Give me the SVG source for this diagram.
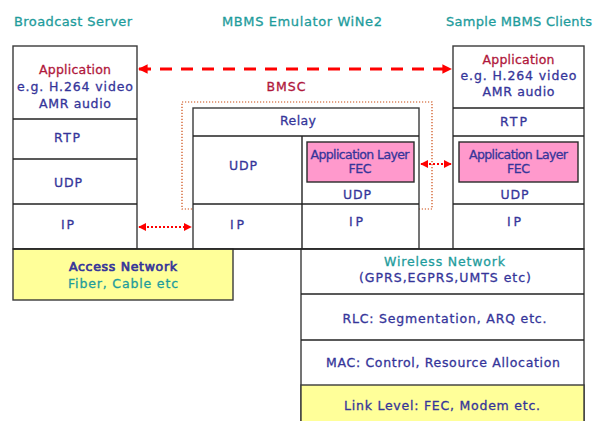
<svg xmlns="http://www.w3.org/2000/svg" width="593" height="421" viewBox="0 0 593 421">
  <defs>
    <marker id="headRed" viewBox="0 0 10 10" refX="9" refY="5" markerWidth="3.2" markerHeight="3.2" orient="auto-start-reverse" markerUnits="strokeWidth">
      <path d="M0,0 L10,5 L0,10 z" fill="#ff0000"/>
    </marker>
    <marker id="headDot" viewBox="0 0 10 10" refX="9" refY="5" markerWidth="4" markerHeight="4" orient="auto-start-reverse" markerUnits="strokeWidth">
      <path d="M0,0 L10,5 L0,10 z" fill="#ff0000"/>
    </marker>
    <style>
      text { font-family: "DejaVu Sans", Verdana, sans-serif; font-size: 12.5px; text-anchor: middle; stroke-width: 0.3px; }
      .hdr { fill: #1e9c9c; stroke: #1e9c9c; font-size: 13px; }
      .blue { fill: #35359a; stroke: #35359a; }
      .red { fill: #b0173b; stroke: #b0173b; }
      .teal { fill: #1e9c9c; stroke: #1e9c9c; }
      .b { stroke-width: 0.7px; }
      .box { fill: #ffffff; stroke: #3a3a3a; stroke-width: 1.4; }
      .ln { stroke: #222; stroke-width: 1.4; fill: none; }
      .yel { fill: #ffff99; stroke: #3a3a3a; stroke-width: 1.4; }
      .pink { fill: #ff99cc; stroke: #2a2a2a; stroke-width: 1.4; }
    </style>
  </defs>

  <!-- column headings -->
  <text class="hdr" x="73" y="26" textLength="118" lengthAdjust="spacing">Broadcast Server</text>
  <text class="hdr" x="302" y="26" textLength="160" lengthAdjust="spacing">MBMS Emulator WiNe2</text>
  <text class="hdr" x="519" y="26" textLength="146" lengthAdjust="spacing">Sample MBMS Clients</text>

  <!-- broadcast server protocol stack -->
  <g id="server">
    <rect class="box" x="13" y="46" width="124" height="203"/>
    <line class="ln" x1="13" y1="119" x2="137" y2="119"/>
    <line class="ln" x1="13" y1="159" x2="137" y2="159"/>
    <line class="ln" x1="13" y1="204" x2="137" y2="204"/>
    <text class="red" x="75" y="74" textLength="72" lengthAdjust="spacing">Application</text>
    <text class="blue" x="75" y="91" textLength="116" lengthAdjust="spacing">e.g. H.264 video</text>
    <text class="blue" x="75" y="107.5" textLength="72" lengthAdjust="spacing">AMR audio</text>
    <text class="blue" x="67" y="141.5" textLength="26" lengthAdjust="spacing">RTP</text>
    <text class="blue" x="68" y="186.5" textLength="28" lengthAdjust="spacing">UDP</text>
    <text class="blue" x="67.5" y="229" textLength="13" lengthAdjust="spacing">IP</text>
  </g>

  <!-- BMSC boundary -->
  <rect x="182" y="102" width="250" height="107" fill="none" stroke="#cc4a10" stroke-width="1.2" stroke-dasharray="1.2 1.8"/>
  <text class="red" x="286" y="91" textLength="39" lengthAdjust="spacing">BMSC</text>

  <!-- emulator relay stack -->
  <g id="relay">
    <rect class="box" x="193" y="108" width="226" height="141"/>
    <line class="ln" x1="193" y1="136" x2="419" y2="136"/>
    <line class="ln" x1="193" y1="204" x2="419" y2="204"/>
    <line class="ln" x1="302" y1="136" x2="302" y2="249"/>
    <text class="blue" x="298" y="125" textLength="36" lengthAdjust="spacing">Relay</text>
    <text class="blue" x="243" y="170" textLength="28" lengthAdjust="spacing">UDP</text>
    <text class="blue" x="237" y="229" textLength="14" lengthAdjust="spacing">IP</text>
    <rect class="pink" x="307" y="142" width="107" height="40"/>
    <text class="blue" x="360" y="159" font-size="11" textLength="99" lengthAdjust="spacing">Application Layer</text>
    <text class="blue" x="360" y="173" font-size="11" textLength="23" lengthAdjust="spacing">FEC</text>
    <text class="blue" x="357" y="198.5" textLength="28" lengthAdjust="spacing">UDP</text>
    <text class="blue" x="356" y="226" textLength="14" lengthAdjust="spacing">IP</text>
  </g>

  <!-- client protocol stack -->
  <g id="client">
    <rect class="box" x="453" y="46" width="131" height="203"/>
    <line class="ln" x1="453" y1="108" x2="584" y2="108"/>
    <line class="ln" x1="453" y1="136" x2="584" y2="136"/>
    <line class="ln" x1="453" y1="204" x2="584" y2="204"/>
    <text class="red" x="518.5" y="63.5" textLength="72" lengthAdjust="spacing">Application</text>
    <text class="blue" x="518.5" y="79.5" textLength="116" lengthAdjust="spacing">e.g. H.264 video</text>
    <text class="blue" x="518.5" y="95.5" textLength="72" lengthAdjust="spacing">AMR audio</text>
    <text class="blue" x="513.5" y="126" textLength="27" lengthAdjust="spacing">RTP</text>
    <rect class="pink" x="459" y="142" width="119" height="40"/>
    <text class="blue" x="518.5" y="159" font-size="11" textLength="99" lengthAdjust="spacing">Application Layer</text>
    <text class="blue" x="518.5" y="173" font-size="11" textLength="23" lengthAdjust="spacing">FEC</text>
    <text class="blue" x="514.5" y="198.5" textLength="28" lengthAdjust="spacing">UDP</text>
    <text class="blue" x="514" y="226" textLength="14" lengthAdjust="spacing">IP</text>
  </g>

  <!-- access network -->
  <g id="access">
    <rect class="yel" x="13" y="249" width="220" height="51"/>
    <text class="blue b" x="123" y="271" textLength="108" lengthAdjust="spacing">Access Network</text>
    <text class="teal" x="123" y="288" textLength="110" lengthAdjust="spacing">Fiber, Cable etc</text>
  </g>

  <!-- wireless network stack -->
  <g id="wireless">
    <rect class="box" x="301" y="249" width="283" height="175"/>
    <rect class="yel" x="301" y="385" width="283" height="39"/>
    <line class="ln" x1="301" y1="294" x2="584" y2="294"/>
    <line class="ln" x1="301" y1="340" x2="584" y2="340"/>
    <text class="teal" x="444.5" y="266" textLength="121" lengthAdjust="spacing">Wireless Network</text>
    <text class="blue" x="445" y="281.5" textLength="172" lengthAdjust="spacing">(GPRS,EGPRS,UMTS etc)</text>
    <text class="blue" x="444.5" y="323" textLength="204" lengthAdjust="spacing">RLC: Segmentation, ARQ etc.</text>
    <text class="blue" x="443" y="367" textLength="234" lengthAdjust="spacing">MAC: Control, Resource Allocation</text>
    <text class="blue" x="442" y="410" textLength="196" lengthAdjust="spacing">Link Level: FEC, Modem etc.</text>
  </g>

  <!-- shared baseline under the IP layer -->
  <line class="ln" x1="13" y1="249" x2="584" y2="249"/>

  <!-- peer connectors -->
  <g id="connectors">
    <line x1="139" y1="69" x2="451" y2="69" stroke="#ff0000" stroke-width="3" stroke-dasharray="12 9" marker-start="url(#headRed)" marker-end="url(#headRed)"/>
    <line x1="139" y1="227" x2="191" y2="227" stroke="#ff0000" stroke-width="2" stroke-dasharray="2 2" marker-start="url(#headDot)" marker-end="url(#headDot)"/>
    <line x1="421" y1="164" x2="451" y2="164" stroke="#ff0000" stroke-width="2" stroke-dasharray="2 2" marker-start="url(#headDot)" marker-end="url(#headDot)"/>
  </g>
</svg>
